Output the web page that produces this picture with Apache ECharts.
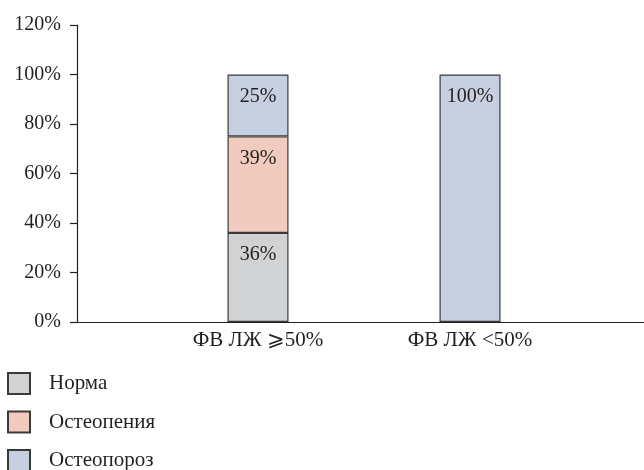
<!DOCTYPE html>
<html>
<head>
<meta charset="utf-8">
<script src="https://cdn.jsdelivr.net/npm/echarts@6/dist/echarts.min.js"></script>
<style>html,body{margin:0;padding:0;background:#fff}#c{width:644px;height:470px}</style>
</head>
<body>
<div id="c"></div>
<script>
const categories = ['ФВ ЛЖ ⩾50%', 'ФВ ЛЖ <50%'];
const seriesNames = ['Норма', 'Остеопения', 'Остеопороз'];
const norma = [36, 0];
const osteopenia = [39, 0];
const osteoporosis = [25, 100];
const yTicks = [0, 20, 40, 60, 80, 100, 120];

const colors = ['#d1d2d4', '#f1cbbd', '#c7d0e1'];
const font = "'Liberation Serif', 'Times New Roman', serif";
const textColor = '#231f20';
const values = [norma, osteopenia, osteoporosis];

const chart = echarts.init(document.getElementById('c'), null, {renderer: 'canvas'});
chart.setOption({
  animation: false,
  textStyle: {fontFamily: font, color: textColor},
  grid: [
    {left: 77, right: 0, top: 25, bottom: 148},
    {left: 152, width: 424, top: 25, bottom: 148}
  ],
  legend: {
    orient: 'vertical', left: 7, top: 372, padding: 0, height: 120,
    itemWidth: 22, itemHeight: 21, itemGap: 15.5,
    icon: 'rect',
    data: seriesNames,
    textStyle: {fontFamily: font, fontSize: 21, color: textColor, padding: [0, 0, 0, 14]}
  },
  xAxis: [
    {gridIndex: 0, type: 'category', data: [''],
     axisLine: {lineStyle: {color: textColor, width: 1.2}}, axisTick: {show: false}, axisLabel: {show: false}},
    {gridIndex: 1, type: 'category', data: categories,
     axisLine: {show: false}, axisTick: {show: false},
     axisLabel: {fontFamily: font, fontSize: 21, color: textColor, margin: 8}}
  ],
  yAxis: [
    {gridIndex: 0, type: 'value', min: yTicks[0], max: yTicks[yTicks.length - 1], interval: 20,
     axisLine: {show: true, lineStyle: {color: textColor, width: 1.2}},
     axisTick: {show: true, length: 7, lineStyle: {color: textColor, width: 1.2}},
     splitLine: {show: false},
     axisLabel: {formatter: '{value}%', fontFamily: font, fontSize: 20, color: textColor, margin: 16}},
    {gridIndex: 1, type: 'value', min: yTicks[0], max: yTicks[yTicks.length - 1], show: false, splitLine: {show: false}}
  ],
  series: seriesNames.map((name, i) => ({
    name: name,
    type: 'bar',
    xAxisIndex: 1, yAxisIndex: 1,
    stack: 'total',
    barWidth: 61,
    data: values[i].map(v => v === 0 ? null : v),
    itemStyle: {color: colors[i], borderColor: '#3a3a3a', borderWidth: 1.2},
    label: {show: true, position: 'insideTop', distance: 12, formatter: '{c}%',
            fontFamily: font, fontSize: 20, color: textColor}
  }))
});
</script>
</body>
</html>
